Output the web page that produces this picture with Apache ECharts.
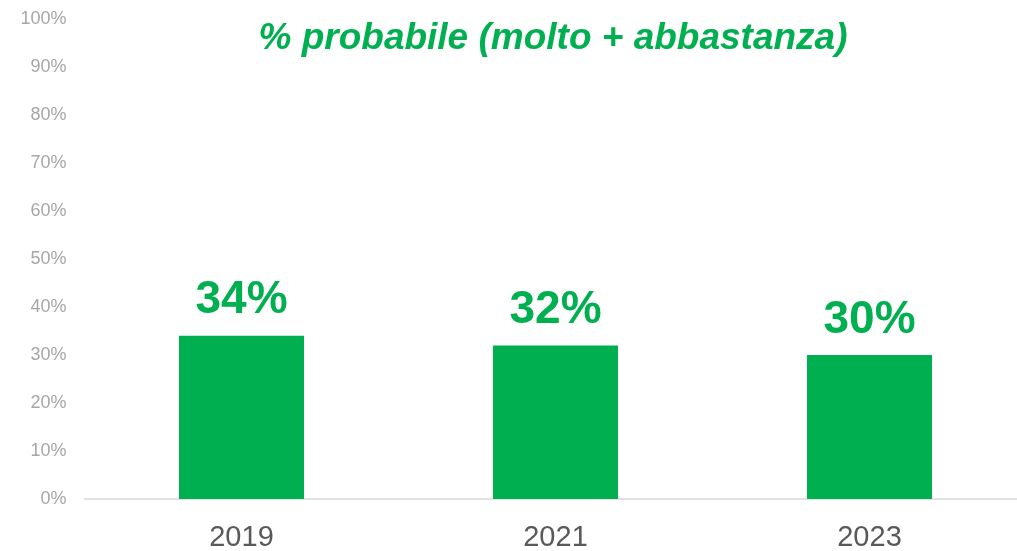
<!DOCTYPE html>
<html>
<head>
<meta charset="utf-8">
<script src="https://cdn.jsdelivr.net/npm/echarts@6/dist/echarts.min.js"></script>
<style>
  html, body { margin: 0; padding: 0; background: #fff; }
  #chart { width: 1017px; height: 551px; }
</style>
</head>
<body>
<div id="chart"></div>
<script>
// dati
const years = ['2019', '2021', '2023'];
const probabile = [34, 32, 30];
const titleText = '% probabile (molto + abbastanza)';

const green = '#00B050';

const chart = echarts.init(document.getElementById('chart'));

chart.setOption({
  animation: false,
  title: {
    text: titleText,
    left: 548,
    textAlign: 'center',
    top: 15,
    textStyle: {
      fontFamily: 'Liberation Sans, Arial',
      fontSize: 37,
      fontWeight: 'bold',
      fontStyle: 'italic',
      color: green
    }
  },
  grid: {
    left: 84.5,
    right: -9.5,
    top: 19,
    bottom: 52,
    containLabel: false,
    outerBoundsMode: 'none'
  },
  xAxis: {
    type: 'category',
    data: years,
    axisLine: { lineStyle: { color: '#d9d9d9', width: 1.5 } },
    axisTick: { show: false },
    axisLabel: {
      margin: 24,
      fontFamily: 'Liberation Sans, Arial',
      fontSize: 29,
      color: '#595959'
    }
  },
  yAxis: {
    type: 'value',
    min: 0,
    max: 100,
    interval: 10,
    splitLine: { show: false },
    axisLine: { show: false },
    axisLabel: {
      margin: 18,
      formatter: '{value}%',
      fontFamily: 'Liberation Sans, Arial',
      fontSize: 18,
      color: '#a6a6a6'
    }
  },
  series: [{
    type: 'bar',
    data: probabile,
    barWidth: 125,
    itemStyle: { color: green },
    label: {
      show: true,
      position: 'top',
      distance: 12,
      formatter: '{c}%',
      fontFamily: 'Liberation Sans, Arial',
      fontSize: 46,
      fontWeight: 'bold',
      color: green
    }
  }]
});
</script>
</body>
</html>
